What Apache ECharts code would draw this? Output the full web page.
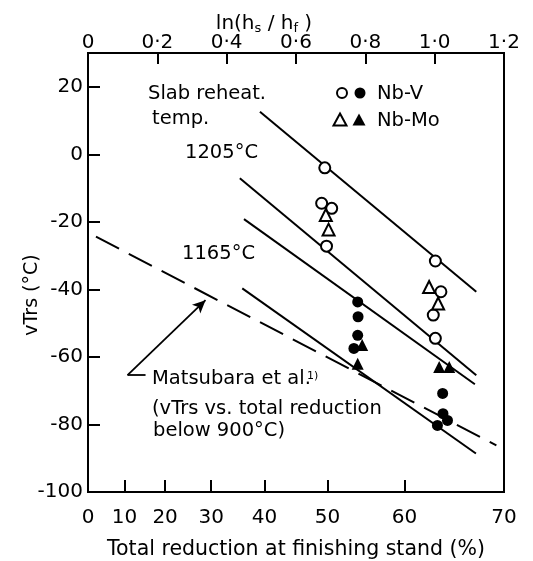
<!DOCTYPE html>
<html><head><meta charset="utf-8">
<script src="https://cdn.jsdelivr.net/npm/echarts@6/dist/echarts.min.js"></script>
<style>html,body{margin:0;padding:0;background:#fff}#c{width:533px;height:561px}</style>
</head><body><div id="c"></div>
<script>
// x values: ln(hs/hf) (top axis); y values: vTrs (°C)
const nbvOpen    = [[0.683,-4.0],[0.674,-14.5],[0.703,-16.0],[0.688,-27.2],[1.002,-31.6],[1.018,-40.7],[0.996,-47.6],[1.002,-54.5]];
const nbvClosed  = [[0.778,-43.7],[0.779,-48.1],[0.778,-53.6],[0.767,-57.5],[1.023,-70.8],[1.024,-76.8],[1.037,-78.8],[1.008,-80.3]];
const nbmoOpen   = [[0.686,-18.0],[0.694,-22.3],[0.984,-39.3],[1.010,-44.2]];
const nbmoClosed = [[0.791,-56.5],[0.778,-62.0],[1.013,-63.0],[1.042,-63.0]];
const line1205a  = [[0.496,12.6],[1.120,-40.7]];
const line1205b  = [[0.438,-7.1],[1.120,-65.4]];
const line1165a  = [[0.450,-19.2],[1.116,-68.1]];
const line1165b  = [[0.445,-39.7],[1.119,-88.6]];
const matsubara  = [[0.023,-24.4],[1.178,-86.2]];
const arrowPts   = [[0.166,-65.4],[0.114,-65.4],[0.339,-43.2]];
const topTicks    = [0,0.2,0.4,0.6,0.8,1.0,1.2];
const bottomTicks = [0,10,20,30,40,50,60,70];   // total reduction (%)
const yTicks      = [-100,-80,-60,-40,-20,0,20];

const FONT = 'DejaVu Sans';
const bottomPos = bottomTicks.map(r => -Math.log(1 - r/100));
const lineW = 2;

const chart = echarts.init(document.getElementById('c'));
const axisCommon = {
  axisLine:{show:true,onZero:false,lineStyle:{color:'#000',width:2}},
  splitLine:{show:false}
};
function solid(d){return {type:'line',xAxisIndex:1,data:d,symbol:'none',silent:true,lineStyle:{color:'#000',width:lineW},z:2};}
function scatter(d,sym,fill,size){return {type:'scatter',xAxisIndex:1,data:d,symbol:sym,symbolSize:size,
  itemStyle:{color:fill,borderColor:'#000',borderWidth:fill==='#fff'?2:0,opacity:1},z:5};}
const T = (x,y,text,size,extra) => Object.assign({type:'text',x:x,y:y,
  style:{text:text,font:(size||20)+'px "DejaVu Sans"',fill:'#000',verticalAlign:'middle'}},extra||{});

const option = {
  animation:false,
  grid:{left:88,right:29,top:53,bottom:69,show:true,borderColor:'#000',borderWidth:2,outerBoundsMode:'none'},
  xAxis:[
    Object.assign({type:'value',position:'bottom',min:0,max:bottomPos[bottomPos.length-1],
      axisTick:{show:true,inside:true,length:12,customValues:bottomPos,lineStyle:{color:'#000',width:2}},
      axisLabel:{customValues:bottomPos,color:'#000',fontSize:20,fontFamily:FONT,margin:16,
        formatter:v=>String(Math.round(100*(1-Math.exp(-v))))},
      name:'Total reduction at finishing stand (%)',nameLocation:'middle',nameGap:47,
      nameTextStyle:{color:'#000',fontSize:20.5,fontFamily:FONT}},axisCommon),
    Object.assign({type:'value',position:'top',min:0,max:1.2,interval:0.2,
      axisTick:{show:true,inside:true,length:11,customValues:topTicks,lineStyle:{color:'#000',width:2}},
      axisLabel:{customValues:topTicks,color:'#000',fontSize:20,fontFamily:FONT,margin:0,
        formatter:v=>v===0?'0':v.toFixed(1).replace('.','·')}},axisCommon)
  ],
  yAxis:Object.assign({type:'value',min:-100,max:30,
    axisTick:{show:true,inside:true,length:12,customValues:yTicks,lineStyle:{color:'#000',width:2}},
    axisLabel:{customValues:yTicks,color:'#000',fontSize:20,fontFamily:FONT,margin:5}},axisCommon),
  series:[
    solid(line1205a),solid(line1205b),solid(line1165a),solid(line1165b),
    {type:'line',xAxisIndex:1,data:matsubara,symbol:'none',silent:true,lineStyle:{color:'#000',width:lineW,type:[26,11]},z:2},
    {type:'line',xAxisIndex:1,data:[],silent:true,markLine:{silent:true,symbol:['none','none'],label:{show:false},
      lineStyle:{color:'#000',width:1.8,type:'solid'},
      data:[[{coord:arrowPts[0]},{coord:arrowPts[1]}],
            [{coord:arrowPts[1]},{coord:arrowPts[2],symbol:'arrow',symbolSize:[9,13]}]]}},
    scatter(nbvOpen,'circle','#fff',11),
    scatter(nbmoOpen,'triangle','#fff',12),
    scatter(nbvClosed,'circle','#000',11),
    scatter(nbmoClosed,'triangle','#000',12)
  ],
  graphic:[
    {type:'text',x:264,y:24,style:{
      text:'{a|ln(h}{s|s}{a| / h}{s|f}{a| )}',
      rich:{a:{font:'20px "DejaVu Sans"',fill:'#000'},s:{font:'13px "DejaVu Sans"',fill:'#000',padding:[10,0,0,0]}},
      align:'center',verticalAlign:'middle'}},
    {type:'text',x:32,y:295,rotation:Math.PI/2,style:{text:'vTrs (°C)',font:'19px "DejaVu Sans"',fill:'#000',align:'center',verticalAlign:'middle'}},
    T(148,94,'Slab reheat.',19.5),
    T(152,119,'temp.',19.5),
    T(185,153,'1205°C',19.5),
    T(182,254,'1165°C',19.5),
    T(377,94,'Nb-V',19.5),
    T(377,121,'Nb-Mo',19.5),
    {type:'circle',shape:{cx:342,cy:93,r:5},style:{fill:'#fff',stroke:'#000',lineWidth:2}},
    {type:'circle',shape:{cx:360,cy:93,r:5.5},style:{fill:'#000'}},
    {type:'polygon',shape:{points:[[340,113.5],[346.5,125.5],[333.5,125.5]]},style:{fill:'#fff',stroke:'#000',lineWidth:2}},
    {type:'polygon',shape:{points:[[359,113.5],[365.5,125.5],[352.5,125.5]]},style:{fill:'#000'}},
    T(152,379,'Matsubara et al.',19.5),
    T(307,376,'1)',11),
    T(152,409,'(vTrs vs. total reduction',19.5),
    T(153,431,'below 900°C)',19.5)
  ]
};
chart.setOption(option);
</script></body></html>
